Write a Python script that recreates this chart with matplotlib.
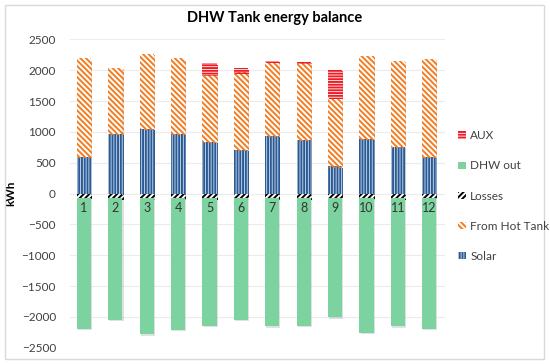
import numpy as np
import matplotlib.pyplot as plt
import matplotlib.patheffects as pe
from matplotlib.patches import Patch, Rectangle

plt.rcParams['font.family'] = ['Lato', 'DejaVu Sans']
plt.rcParams['hatch.linewidth'] = 1.4

months = [str(m) for m in range(1, 13)]
solar = [590, 970, 1050, 960, 840, 700, 940, 870, 440, 880, 750, 600]
hot_tank = [1600, 1070, 1210, 1230, 1090, 1263, 1190, 1245, 1115, 1350, 1395, 1585]
aux = [0, 0, 0, 0, 180, 65, 20, 20, 445, 0, 0, 0]
losses = [-80] * 12
dhw_out = [-2120, -1970, -2205, -2125, -2065, -1975, -2075, -2070, -1930, -2185, -2075, -2120]

x = np.arange(1, 13)
solar = np.array(solar)
hot_tank = np.array(hot_tank)
aux = np.array(aux)
losses = np.array(losses)
dhw_out = np.array(dhw_out)

fig = plt.figure(figsize=(5.5, 3.64), dpi=100)
fig.patches.append(Rectangle((5 / 550, 5 / 364), 539 / 550, 354 / 364,
                             transform=fig.transFigure, fill=False,
                             edgecolor='#d9d9d9', linewidth=1.0))
ax = fig.add_axes([0.127, 0.0448, 0.682, 0.847])

w = 0.45
shadow = [pe.SimplePatchShadow(offset=(0.8, -0.8), alpha=0.15), pe.Normal()]

s1 = ax.bar(x, solar, w, facecolor='#d6e1ef', edgecolor='#2a5a96',
            hatch='||||||', linewidth=0, zorder=3)
s2 = ax.bar(x, hot_tank, w, bottom=solar, facecolor='white', edgecolor='#f47c20',
            hatch='\\\\\\\\\\\\', linewidth=0, zorder=3)
s3 = ax.bar(x, losses, w, facecolor='white', edgecolor='black',
            hatch='//////', linewidth=0, zorder=3)
s4 = ax.bar(x, dhw_out, w, bottom=losses, color='#7dd3a0', linewidth=0, zorder=3)
s5 = ax.bar(x, aux, w, bottom=solar + hot_tank, facecolor='white', edgecolor='#ee1c25',
            hatch='------', linewidth=0, zorder=3)
for cont in (s1, s2, s3, s4, s5):
    for p in cont:
        p.set_path_effects(shadow)

for xi, m in zip(x, months):
    ax.text(xi, -240, m, ha='center', va='center', fontsize=9, color='#333333', zorder=4)

ax.set_xlim(0.55, 12.5)
ax.set_ylim(-2500, 2500)
ax.set_yticks(np.arange(-2500, 2501, 500))
ax.set_xticks([])
ax.grid(axis='y', color='#ececec', linewidth=0.8, zorder=0)
for s in ax.spines.values():
    s.set_visible(False)
ax.tick_params(axis='y', length=0, pad=10, labelsize=8.5, labelcolor='#404040')
ax.set_ylabel('kWh', fontsize=8.5, fontweight='bold', color='black', labelpad=4)

fig.text(0.5, 0.95, 'DHW Tank energy balance', ha='center', va='center',
         fontsize=10.5, fontweight='bold')

handles = [
    Patch(facecolor='white', edgecolor='#ee1c25', hatch='------', linewidth=0),
    Patch(facecolor='#7dd3a0', linewidth=0),
    Patch(facecolor='white', edgecolor='black', hatch='//////', linewidth=0),
    Patch(facecolor='white', edgecolor='#f47c20', hatch='\\\\\\\\\\\\', linewidth=0),
    Patch(facecolor='#d6e1ef', edgecolor='#2a5a96', hatch='||||||', linewidth=0),
]
labels = ['AUX', 'DHW out', 'Losses', 'From Hot Tank', 'Solar']
fig.legend(handles, labels, loc='upper left', bbox_to_anchor=(0.825, 0.655),
           frameon=False, fontsize=8.5, labelcolor='#404040',
           handlelength=0.6, handleheight=0.6, handletextpad=0.4,
           labelspacing=1.62, borderaxespad=0)

fig.savefig('out.png', dpi=100)
